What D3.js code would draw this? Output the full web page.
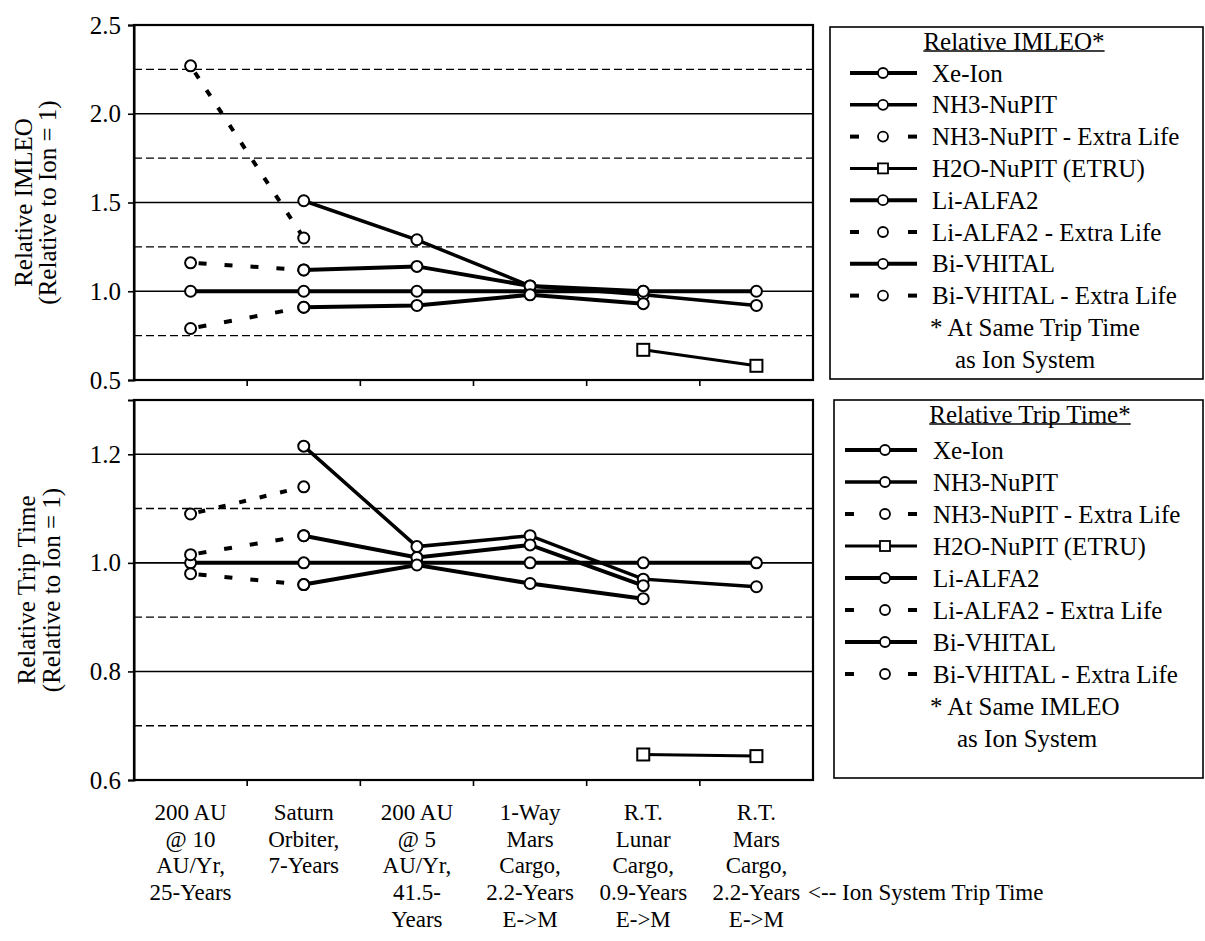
<!DOCTYPE html>
<html lang="en">
<head>
<meta charset="utf-8">
<title>Relative IMLEO and Trip Time</title>
<script src="https://d3js.org/d3.v7.min.js"></script>
<style>
  body { margin: 0; background: #fff; }
  svg text { font-family: "Liberation Serif", "Times New Roman", serif; fill: #000; }
</style>
</head>
<body>
<div id="chart"></div>
<script>
// mission categories (x axis), one label line per entry
const categories = ["c1", "c2", "c3", "c4", "c5", "c6"];
const categoryLines = [
  ["200 AU", "@ 10", "AU/Yr,", "25-Years"],
  ["Saturn", "Orbiter,", "7-Years"],
  ["200 AU", "@ 5", "AU/Yr,", "41.5-", "Years"],
  ["1-Way", "Mars", "Cargo,", "2.2-Years", "E->M"],
  ["R.T.", "Lunar", "Cargo,", "0.9-Years", "E->M"],
  ["R.T.", "Mars", "Cargo,", "2.2-Years", "E->M"]
];

// relative IMLEO (top panel)
const xeIonImleo    = [1.0, 1.0, 1.0, 1.0, 1.0, 1.0];
const nh3Imleo      = [null, 1.51, 1.29, 1.03, 0.98, 0.92];
const nh3ExtraImleo = [2.27, 1.30, null, null, null, null];
const h2oImleo      = [null, null, null, null, 0.67, 0.58];
const liImleo       = [null, 1.12, 1.14, 1.03, 1.00, null];
const liExtraImleo  = [1.16, 1.12, null, null, null, null];
const biImleo       = [null, 0.91, 0.92, 0.98, 0.93, null];
const biExtraImleo  = [0.79, 0.91, null, null, null, null];

// relative trip time (bottom panel)
const xeIonTrip    = [1.0, 1.0, 1.0, 1.0, 1.0, 1.0];
const nh3Trip      = [null, 1.215, 1.03, 1.05, 0.97, 0.956];
const nh3ExtraTrip = [1.09, 1.14, null, null, null, null];
const h2oTrip      = [null, null, null, null, 0.647, 0.644];
const liTrip       = [null, 1.05, 1.01, 1.033, 0.958, null];
const liExtraTrip  = [1.015, 1.05, null, null, null, null];
const biTrip       = [null, 0.96, 0.996, 0.962, 0.934, null];
const biExtraTrip  = [0.98, 0.96, null, null, null, null];

const legendNames = ["Xe-Ion", "NH3-NuPIT", "NH3-NuPIT - Extra Life", "H2O-NuPIT (ETRU)",
                     "Li-ALFA2", "Li-ALFA2 - Extra Life", "Bi-VHITAL", "Bi-VHITAL - Extra Life"];

const imleoTicks = [0.5, 1.0, 1.5, 2.0, 2.5];
const imleoSolid = [1.0, 1.5, 2.0];
const imleoDashed = [0.75, 1.25, 1.75, 2.25];
const tripTicks = [0.6, 0.8, 1.0, 1.2];
const tripSolid = [0.8, 1.0, 1.2];
const tripDashed = [0.7, 0.9, 1.1];

// line style per legend entry
const styles = [
  {dash: null, marker: "circle", w: 4},
  {dash: null, marker: "circle", w: 3.5},
  {dash: "7,14", marker: "circle", w: 4},
  {dash: null, marker: "square", w: 3},
  {dash: null, marker: "circle", w: 4},
  {dash: "8,18", marker: "circle", w: 4},
  {dash: null, marker: "circle", w: 4},
  {dash: "8,18", marker: "circle", w: 4}
];

const svg = d3.select("#chart").append("svg")
  .attr("width", 1205).attr("height", 941);

const x = d3.scaleBand().domain(categories).range([134, 813]);

function panel(cfg) {
  const y = d3.scaleLinear().domain(cfg.domain).range([cfg.bottom, cfg.top]);
  const g = svg.append("g");

  // grid lines
  g.selectAll(".solid").data(cfg.solid).enter().append("line")
    .attr("x1", 134).attr("x2", 813)
    .attr("y1", d => y(d)).attr("y2", d => y(d))
    .attr("stroke", "#000").attr("stroke-width", 1.6);
  g.selectAll(".dashed").data(cfg.dashed).enter().append("line")
    .attr("x1", 134).attr("x2", 813)
    .attr("y1", d => y(d)).attr("y2", d => y(d))
    .attr("stroke", "#000").attr("stroke-width", 1.4)
    .attr("stroke-dasharray", "8,4");

  // frame
  g.append("rect")
    .attr("x", 134).attr("y", cfg.top)
    .attr("width", 813 - 134).attr("height", cfg.bottom - cfg.top)
    .attr("fill", "none").attr("stroke", "#000").attr("stroke-width", 2.2);

  // y axis
  const ax = g.append("g").attr("transform", "translate(134,0)")
    .call(d3.axisLeft(y).tickValues(cfg.ticks).tickFormat(d3.format(".1f")).tickSize(6).tickPadding(7));
  ax.select(".domain").attr("stroke-width", 2);
  ax.selectAll("line").attr("stroke-width", 1.6);
  ax.selectAll("text").style("font-size", "25px").style("font-family", "Liberation Serif");

  // x ticks at category boundaries
  g.selectAll(".xt").data(categories.slice(1)).enter().append("line")
    .attr("x1", d => x(d)).attr("x2", d => x(d))
    .attr("y1", cfg.bottom).attr("y2", cfg.bottom + 6)
    .attr("stroke", "#000").attr("stroke-width", 1.6);

  // series
  const line = d3.line()
    .defined(d => d.v != null)
    .x(d => x(d.c) + x.bandwidth() / 2)
    .y(d => y(d.v));
  cfg.series.forEach((vals, i) => {
    const pts = vals.map((v, j) => ({c: categories[j], v: v}));
    const st = styles[i];
    g.append("path").datum(pts)
      .attr("d", line)
      .attr("fill", "none").attr("stroke", "#000")
      .attr("stroke-width", st.w)
      .attr("stroke-dasharray", st.dash)
      .attr("stroke-dashoffset", st.dash ? -8 : null);
  });
  cfg.series.forEach((vals, i) => {
    const pts = vals.map((v, j) => ({c: categories[j], v: v})).filter(d => d.v != null);
    if (styles[i].marker === "square") {
      g.selectAll(null).data(pts).enter().append("rect")
        .attr("x", d => x(d.c) + x.bandwidth() / 2 - 6)
        .attr("y", d => y(d.v) - 6)
        .attr("width", 12).attr("height", 12)
        .attr("fill", "#fff").attr("stroke", "#000").attr("stroke-width", 2);
    } else {
      g.selectAll(null).data(pts).enter().append("circle")
        .attr("cx", d => x(d.c) + x.bandwidth() / 2)
        .attr("cy", d => y(d.v))
        .attr("r", 5.5)
        .attr("fill", "#fff").attr("stroke", "#000").attr("stroke-width", 2);
    }
  });

  // y axis title
  const cy = (cfg.top + cfg.bottom) / 2;
  cfg.title.forEach((t, k) => {
    g.append("text")
      .attr("transform", `translate(${cfg.titleX[k]},${cy}) rotate(-90)`)
      .attr("text-anchor", "middle")
      .style("font-size", "25px")
      .text(t);
  });

  // legend
  const L = cfg.legend;
  g.append("rect")
    .attr("x", L.left).attr("y", L.top)
    .attr("width", 1203 - L.left).attr("height", L.bottom - L.top)
    .attr("fill", "none").attr("stroke", "#000").attr("stroke-width", 1.6);
  const head = g.append("text")
    .attr("x", L.titleX).attr("y", L.titleY)
    .attr("text-anchor", "middle").attr("dominant-baseline", "central")
    .style("font-size", "25px").text(L.heading);
  const hw = head.node().getComputedTextLength();
  g.append("line")
    .attr("x1", L.titleX - hw / 2).attr("x2", L.titleX + hw / 2)
    .attr("y1", L.titleY + 10).attr("y2", L.titleY + 10)
    .attr("stroke", "#000").attr("stroke-width", 1.3);

  legendNames.forEach((name, i) => {
    const ry = L.firstY + i * L.step;
    const st = styles[i];
    if (st.dash) {
      [L.x1, L.x2 - 9].forEach(sx => {
        g.append("line").attr("x1", sx).attr("x2", sx + 9)
          .attr("y1", ry).attr("y2", ry)
          .attr("stroke", "#000").attr("stroke-width", 4);
      });
    } else {
      g.append("line").attr("x1", L.x1).attr("x2", L.x2)
        .attr("y1", ry).attr("y2", ry)
        .attr("stroke", "#000").attr("stroke-width", st.w);
    }
    if (st.marker === "square") {
      g.append("rect").attr("x", L.mx - 5).attr("y", ry - 5)
        .attr("width", 10).attr("height", 10)
        .attr("fill", "#fff").attr("stroke", "#000").attr("stroke-width", 1.8);
    } else {
      g.append("circle").attr("cx", L.mx).attr("cy", ry).attr("r", 5)
        .attr("fill", "#fff").attr("stroke", "#000").attr("stroke-width", 1.8);
    }
    g.append("text").attr("x", L.textX).attr("y", ry)
      .attr("dominant-baseline", "central")
      .style("font-size", "25px").text(name);
  });
  L.notes.forEach((n, k) => {
    g.append("text").attr("x", n.x).attr("y", L.firstY + (8 + k) * L.step)
      .attr("dominant-baseline", "central")
      .style("font-size", "25px").text(n.t);
  });
}

panel({
  domain: [0.5, 2.5], top: 25, bottom: 380,
  ticks: imleoTicks, solid: imleoSolid, dashed: imleoDashed,
  series: [xeIonImleo, nh3Imleo, nh3ExtraImleo, h2oImleo, liImleo, liExtraImleo, biImleo, biExtraImleo],
  title: ["Relative IMLEO", "(Relative to Ion = 1)"], titleX: [32, 56],
  legend: {left: 830, top: 27, bottom: 379, heading: "Relative IMLEO*", titleX: 1014, titleY: 41,
           firstY: 73, step: 31.8, x1: 850, x2: 917, mx: 883, textX: 932,
           notes: [{x: 930, t: "* At Same Trip Time"}, {x: 955, t: "as Ion System"}]}
});

panel({
  domain: [0.6, 1.3], top: 400, bottom: 780,
  ticks: tripTicks, solid: tripSolid, dashed: tripDashed,
  series: [xeIonTrip, nh3Trip, nh3ExtraTrip, h2oTrip, liTrip, liExtraTrip, biTrip, biExtraTrip],
  title: ["Relative Trip Time", "(Relative to Ion = 1)"], titleX: [35, 60],
  legend: {left: 834, top: 400, bottom: 778, heading: "Relative Trip Time*", titleX: 1030, titleY: 414,
           firstY: 450, step: 32, x1: 845, x2: 917, mx: 885, textX: 933,
           notes: [{x: 930, t: "* At Same IMLEO"}, {x: 957, t: "as Ion System"}]}
});

// category labels under the bottom panel
categoryLines.forEach((lines, i) => {
  const t = svg.append("text")
    .attr("x", x(categories[i]) + x.bandwidth() / 2)
    .attr("text-anchor", "middle")
    .style("font-size", "23px");
  lines.forEach((s, k) => {
    t.append("tspan")
      .attr("x", x(categories[i]) + x.bandwidth() / 2)
      .attr("y", 820 + k * 26.7)
      .text(s);
  });
});
svg.append("text").attr("x", 808).attr("y", 820 + 3 * 26.7)
  .style("font-size", "23px").text("<-- Ion System Trip Time");
</script>
</body>
</html>
